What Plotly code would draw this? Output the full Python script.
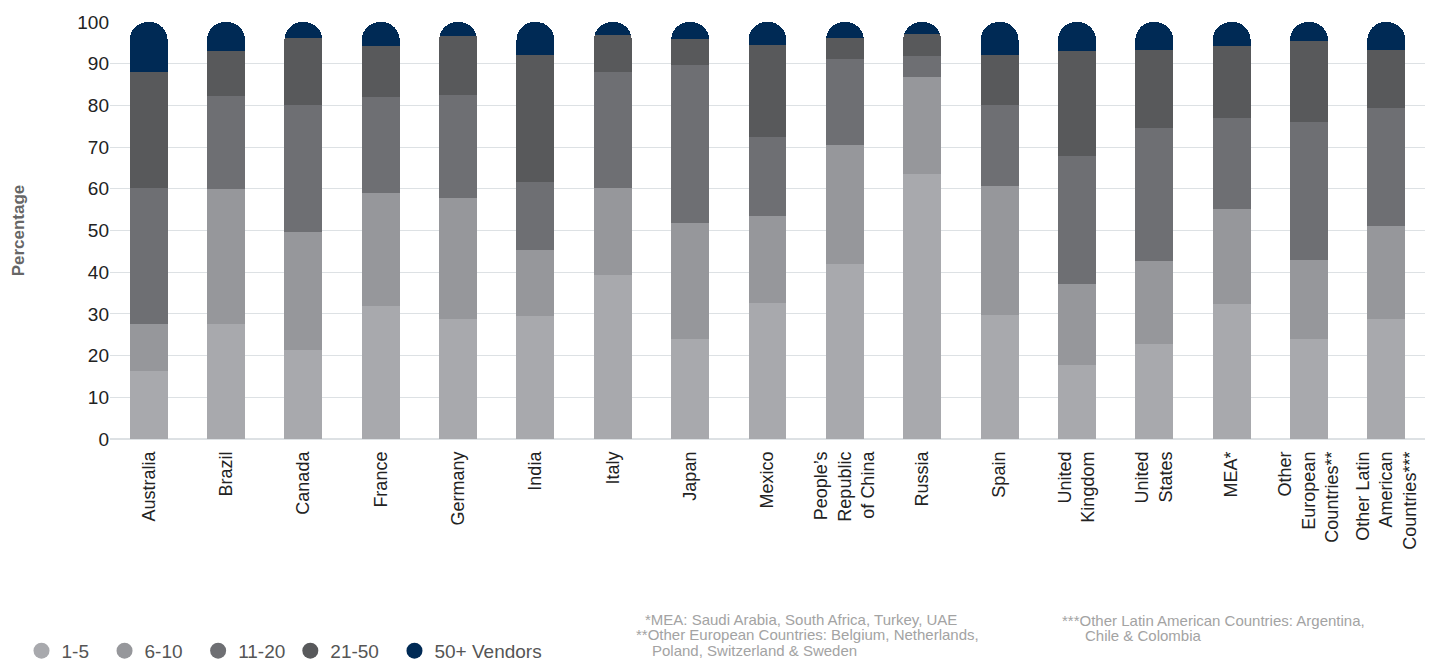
import plotly.graph_objects as go

countries = ["Australia", "Brazil", "Canada", "France", "Germany", "India", "Italy",
             "Japan", "Mexico", "People’s<br>Republic<br>of China", "Russia", "Spain",
             "United<br>Kingdom", "United<br>States", "MEA*",
             "Other<br>European<br>Countries**", "Other Latin<br>American<br>Countries***"]

# segment values (percent)
v_1_5 = [16.2, 27.6, 21.4, 31.8, 28.8, 29.5, 39.3, 23.9, 32.5, 42.0, 63.5, 29.7, 17.7, 22.9, 32.4, 24.0, 28.8]
v_6_10 = [11.4, 32.4, 28.2, 27.1, 29.0, 15.9, 20.9, 27.8, 20.9, 28.6, 23.3, 30.9, 19.4, 19.9, 22.7, 19.0, 22.2]
v_11_20 = [32.6, 22.3, 30.4, 23.2, 24.6, 16.3, 27.8, 38.0, 19.0, 20.6, 5.0, 19.6, 30.7, 31.9, 21.8, 33.0, 28.3]
v_21_50 = [27.8, 10.8, 16.2, 12.2, 14.2, 30.5, 8.9, 6.2, 22.1, 5.0, 5.3, 11.8, 25.3, 18.5, 17.4, 19.4, 13.9]
v_50p = [round(100 - a - b - c - d, 1) for a, b, c, d in zip(v_1_5, v_6_10, v_11_20, v_21_50)]

series = [
    ("1-5", v_1_5, "#a8a9ad"),
    ("6-10", v_6_10, "#96979b"),
    ("11-20", v_11_20, "#6e6f73"),
    ("21-50", v_21_50, "#58595b"),
    ("50+ Vendors", v_50p, "#002a55"),
]
pad = {"1-5": 2, "6-10": 2, "11-20": 0, "21-50": 2, "50+ Vendors": 0}  # legend spacing

fig = go.Figure()
for name, vals, col in series:
    fig.add_trace(go.Bar(x=countries, y=vals, name=name, marker_color=col,
                         marker_line_width=0, showlegend=False))
# circle markers for the legend
for name, vals, col in series:
    fig.add_trace(go.Scatter(x=[None], y=[None], mode="markers",
                             name=name + "\u00a0" * pad[name],
                             marker=dict(symbol="circle", size=19, color=col)))

notes = [
    ("*MEA: Saudi Arabia, South Africa, Turkey, UAE", 643, 619),
    ("**Other European Countries: Belgium, Netherlands,", 634, 634.5),
    ("Poland, Switzerland & Sweden", 650, 650),
    ("***Other Latin American Countries: Argentina,", 1060, 620),
    ("Chile & Colombia", 1083, 635.5),
]
for txt, px, py in notes:
    fig.add_annotation(text=txt, xref="paper", yref="paper",
                       x=(px - 110) / 1315, y=(439 - py) / 417,
                       xanchor="left", yanchor="middle", showarrow=False,
                       font=dict(family="Liberation Sans", size=15, color="#a3a3a3"))

# page body has an 8px margin, so positions are shifted up/left by 8px
fig.update_layout(
    width=1434, height=662,
    margin=dict(l=102, r=17, t=14, b=231, autoexpand=False),
    barmode="stack", bargap=0.51, barcornerradius="50%",
    plot_bgcolor="white", paper_bgcolor="white",
    font=dict(family="Liberation Sans", color="#222222"),
    legend=dict(orientation="h", x=-0.0673, xanchor="left", y=-0.508, yanchor="middle",
                traceorder="normal", font=dict(size=19, color="#555555"),
                itemwidth=30, tracegroupgap=0),
)
fig.update_xaxes(tickangle=-90, tickfont=dict(size=18, color="#222222"), showgrid=False,
                 showline=False, ticks="", ticklabelstandoff=8)
fig.update_yaxes(range=[0, 100], dtick=10, tickfont=dict(size=19, color="#222222"),
                 gridcolor="#dde1e4", gridwidth=1, zeroline=True, zerolinecolor="#dde1e4",
                 title=dict(text="<b>Percentage</b>", font=dict(size=17, color="#666666"),
                            standoff=48))

fig.write_html("out.html")
